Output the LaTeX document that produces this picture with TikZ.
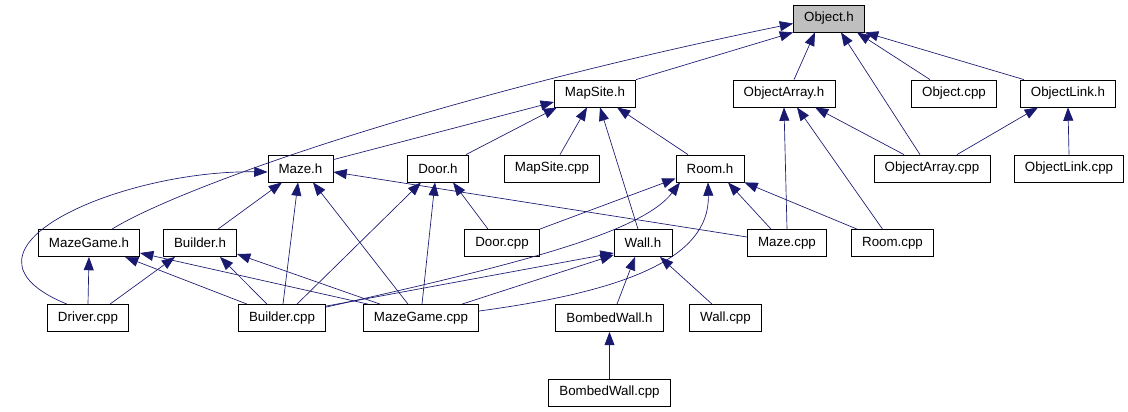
\documentclass[tikz,border=0pt]{standalone}
\usepackage{fontspec}
\setmainfont{Liberation Sans}
\usetikzlibrary{arrows.meta,calc}

\begin{document}
\begin{tikzpicture}[x=0.75pt,y=-0.75pt,
  file/.style={draw=black,line width=0.6pt,fill=white,inner xsep=8pt,inner ysep=0pt,
    minimum height=20.25pt,font=\fontsize{10}{12}\selectfont},
  dep/.style={draw={rgb,255:red,25;green,25;blue,112},line width=0.5pt,
    {Triangle[length=10pt,width=7.5pt]}-}]
\useasboundingbox (0,0) rectangle (1128,411);
% row 1
\node[file,fill={rgb,255:red,191;green,191;blue,191}] (objecth) at (829,18.5) {Object.h};
% row 2
\node[file] (mapsiteh) at (595,93.5) {MapSite.h};
\node[file] (objarrayh) at (784,93.5) {ObjectArray.h};
\node[file] (objectcpp) at (954,93.5) {Object.cpp};
\node[file] (objlinkh) at (1068,93.5) {ObjectLink.h};
% row 3
\node[file] (mazeh) at (300.5,168.5) {Maze.h};
\node[file] (doorh) at (438,168.5) {Door.h};
\node[file] (mapsitecpp) at (552,168.5) {MapSite.cpp};
\node[file] (roomh) at (710,168.5) {Room.h};
\node[file] (objarraycpp) at (932,168.5) {ObjectArray.cpp};
\node[file] (objlinkcpp) at (1069,168.5) {ObjectLink.cpp};
% row 4
\node[file] (mazegameh) at (89,243) {MazeGame.h};
\node[file] (builderh) at (200,243) {Builder.h};
\node[file] (doorcpp) at (502,243) {Door.cpp};
\node[file] (wallh) at (643,243) {Wall.h};
\node[file] (mazecpp) at (787,243) {Maze.cpp};
\node[file] (roomcpp) at (892.5,243) {Room.cpp};
% row 5
\node[file] (drivercpp) at (88,318) {Driver.cpp};
\node[file] (buildercpp) at (282,318) {Builder.cpp};
\node[file] (mazegamecpp) at (421,318) {MazeGame.cpp};
\node[file] (bombedwallh) at (609.5,318) {BombedWall.h};
\node[file] (wallcpp) at (725.5,318) {Wall.cpp};
% row 6
\node[file] (bombedwallcpp) at (609.5,392.5) {BombedWall.cpp};

% into Object.h
\path[dep] (objecth.south west) -- (mapsiteh.north east);
\path[dep] ($(objecth.west)+(0,5)$) .. controls (420,100) and (175,190) .. ($(mazegameh.north)+(23,0)$);
\path[dep] ($(objecth.south)+(-14,0)$) -- ($(objarrayh.north)+(10,0)$);
\path[dep] ($(objecth.south)+(12,0)$) -- ($(objarraycpp.north)+(-12,0)$);
\path[dep] ($(objecth.south)+(28,0)$) -- ($(objectcpp.north)+(-24,0)$);
\path[dep] (objecth.south east) -- ($(objlinkh.north)+(-44,0)$);
% into MapSite.h
\path[dep] ($(mapsiteh.west)+(0,8.5)$) -- ($(mazeh.north east)+(0,5)$);
\path[dep] ($(mapsiteh.south)+(-38,0)$) -- ($(doorh.north)+(28,0)$);
\path[dep] ($(mapsiteh.south)+(-8,0)$) -- ($(mapsitecpp.north)+(8,0)$);
\path[dep] ($(mapsiteh.south)+(5,0)$) -- ($(wallh.north)+(-5,0)$);
\path[dep] ($(mapsiteh.south)+(22,0)$) -- ($(roomh.north)+(-22,0)$);
% into ObjectArray.h and ObjectLink.h
\path[dep] (objarrayh.south) -- (mazecpp.north);
\path[dep] ($(objarrayh.south)+(13,0)$) -- ($(roomcpp.north)+(-10,0)$);
\path[dep] ($(objarrayh.south)+(31,0)$) -- ($(objarraycpp.north)+(-28,0)$);
\path[dep] ($(objlinkh.south)+(-30,0)$) -- ($(objarraycpp.north)+(25,0)$);
\path[dep] (objlinkh.south) -- (objlinkcpp.north);
% into Maze.h
\path[dep] ($(mazeh.west)+(0,3.5)$) .. controls +(-148,-2) and +(-132,-54) .. ($(drivercpp.north)+(-21,0)$);
\path[dep] ($(mazeh.south)+(-18.5,0)$) -- ($(builderh.north)+(18,0)$);
\path[dep] ($(mazeh.south)+(-2.5,0)$) -- ($(buildercpp.north)+(1,0)$);
\path[dep] ($(mazeh.south)+(12.5,0)$) -- ($(mazegamecpp.north)+(-13,0)$);
\path[dep] ($(mazeh.east)+(0,3.5)$) -- ($(mazecpp.west)+(0,-6)$);
% into Door.h
\path[dep] ($(doorh.south)+(-17,0)$) -- ($(buildercpp.north)+(15,0)$);
\path[dep] ($(doorh.south)+(-3,0)$) -- ($(mazegamecpp.north)+(1,0)$);
\path[dep] ($(doorh.south)+(15,0)$) -- ($(doorcpp.north)+(-14,0)$);
% into Room.h
\path[dep] ($(roomh.west)+(0,10)$) -- (doorcpp.north east);
\path[dep] ($(roomh.south)+(-30,0)$) .. controls (640,235) and (500,268) .. ($(buildercpp.north east)+(0,3)$);
\path[dep] ($(roomh.south)+(-2,0)$) .. controls (710,260) and (620,292) .. ($(mazegamecpp.east)+(0,-7)$);
\path[dep] ($(roomh.south)+(18,0)$) -- ($(mazecpp.north)+(-16,0)$);
\path[dep] (roomh.south east) -- ($(roomcpp.north)+(-35.5,0)$);
% into Wall.h
\path[dep] ($(wallh.west)+(0,10)$) -- ($(buildercpp.north east)+(0,2)$);
\path[dep] ($(wallh.west)+(0,12)$) -- ($(mazegamecpp.north)+(41,0)$);
\path[dep] ($(wallh.south)+(-8,0)$) -- ($(bombedwallh.north)+(7.5,0)$);
\path[dep] ($(wallh.south)+(17,0)$) -- ($(wallcpp.north)+(-13.5,0)$);
% into MazeGame.h and Builder.h
\path[dep] (mazegameh.south) -- (drivercpp.north);
\path[dep] ($(mazegameh.south)+(36,0)$) -- ($(buildercpp.north)+(-35,0)$);
\path[dep] ($(mazegameh.east)+(0,10)$) -- ($(mazegamecpp.north)+(-53,0)$);
\path[dep] ($(builderh.south)+(-25,0)$) -- ($(drivercpp.north)+(22,0)$);
\path[dep] ($(builderh.south)+(20,0)$) -- ($(buildercpp.north)+(-15,0)$);
\path[dep] ($(builderh.east)+(0,11)$) -- ($(mazegamecpp.north)+(-41,0)$);
% into BombedWall.h
\path[dep] (bombedwallh.south) -- (bombedwallcpp.north);
\end{tikzpicture}
\end{document}
